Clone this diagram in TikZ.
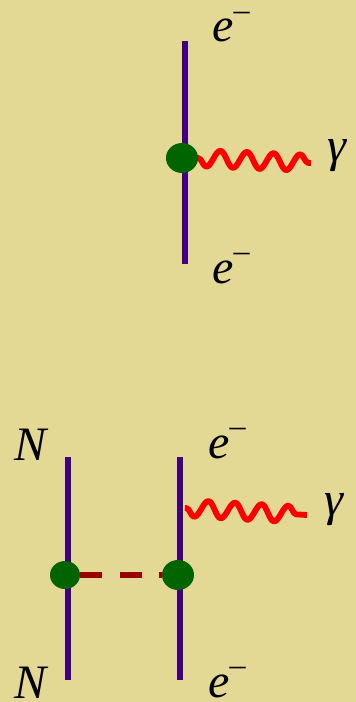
\documentclass[tikz,border=0pt]{standalone}
\usepackage{fontspec}
\setmainfont{Liberation Serif}
\usepackage{xcolor}
\usepackage{tikz}
\usetikzlibrary{positioning,shapes.geometric,decorations.pathmorphing}
\definecolor{sand}{RGB}{227,217,148}
\definecolor{fermion}{RGB}{63,0,128}
\definecolor{vtx}{RGB}{0,100,0}
\definecolor{photon}{RGB}{255,0,0}
\definecolor{pion}{RGB}{153,0,0}
\newcommand{\elec}{\textit{e}\smash{\raisebox{16pt}{\fontsize{24}{24}\selectfont --}}}
\tikzset{
  lbl/.style={anchor=base west, inner sep=0pt, font=\fontsize{36}{36}\selectfont\itshape},
  line/.style={draw=fermion, line width=4.5pt},
  exch/.style={draw=pion, line width=4.5pt, dash pattern=on 16.5pt off 13pt},
  wav/.style={draw=photon, line width=4.4pt, line join=round, decorate, decoration={snake, mirror, segment length=20pt, amplitude=6.2pt, pre length=1pt, post length=1pt}},
  vert/.style={ellipse, fill=vtx, inner sep=0pt, minimum width=24pt, minimum height=22.5pt}
}
\begin{document}
\begin{tikzpicture}[x=0.75pt, y=-0.75pt]
\useasboundingbox[fill=sand] (0,0) rectangle (356,702);
% upper graph
\coordinate (t1) at (184.5,41);
\coordinate (b1) at (184.5,264);
\coordinate (g1) at (311,163);
\coordinate (w1) at (197,158);
\draw[line] (t1) -- (b1);
\draw[wav] (w1) -- (g1);
\node[vert] (v1) at (182,158) {};
\node[lbl] (e1) at (212,42) {\elec};
\node[lbl] (e2) at (212,283) {\elec};
\node[lbl] (ph1) at (327,162) {γ};
% lower graph
\coordinate (t2) at (68,457);
\coordinate (b2) at (68,680);
\coordinate (t3) at (180,457);
\coordinate (b3) at (180,680);
\coordinate (w2) at (185,508);
\coordinate (g2) at (307,515);
\draw[line] (t2) -- (b2);
\draw[line] (t3) -- (b3);
\draw[wav] (w2) -- (g2);
\node[vert, minimum width=22.5pt, minimum height=21pt] (v2) at (65,575) {};
\node[vert] (v3) at (178,575) {};
\draw[exch] (v2.east) -- (v3.west);
\node[lbl] (n1) at (14,460) {N};
\node[lbl] (n2) at (14,698) {N};
\node[lbl] (e3) at (208,458) {\elec};
\node[lbl] (e4) at (208,697) {\elec};
\node[lbl] (ph2) at (324,515) {γ};
\end{tikzpicture}
\end{document}
